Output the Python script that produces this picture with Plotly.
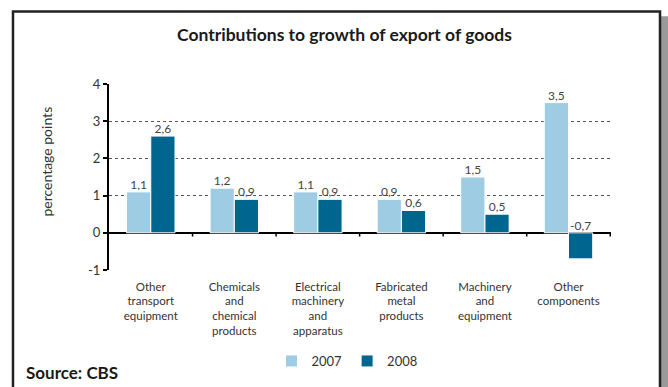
import plotly.graph_objects as go

# Data
categories = [
    "Other<br>transport<br>equipment",
    "Chemicals<br>and<br>chemical<br>products",
    "Electrical<br>machinery<br>and<br>apparatus",
    "Fabricated<br>metal<br>products",
    "Machinery<br>and<br>equipment",
    "Other<br>components",
]
values_2007 = [1.1, 1.2, 1.1, 0.9, 1.5, 3.5]
values_2008 = [2.6, 0.9, 0.9, 0.6, 0.5, -0.7]
series_names = ["2007", "2008"]
y_ticks = [-1, 0, 1, 2, 3, 4]

LIGHT = "#9ecce3"
DARK = "#006690"
FONT = "Lato"

W, H = 668, 387
L, R, T, B = 109, 57, 84, 116
PW, PH = W - L - R, H - T - B


def px_x(p):
    return (p - L) / PW


def px_y(q):
    return (H - B - q) / PH


def fmt(v):
    return f"{v:.1f}".replace(".", ",")


fig = go.Figure()
for name, vals, col, grp in [
    (series_names[0], values_2007, LIGHT, "a"),
    (series_names[1], values_2008, DARK, "b"),
]:
    fig.add_trace(go.Bar(
        x=categories, y=vals, name=name, marker_color=col,
        marker_line=dict(color="white", width=1),
        offsetgroup=grp,
    ))
for vals, grp in [(values_2007, "a"), (values_2008, "b")]:
    fig.add_trace(go.Scatter(
        x=categories, y=[max(v, 0) for v in vals], mode="text",
        text=[fmt(v) for v in vals], textposition="top center",
        textfont=dict(size=12, color="#444", family=FONT),
        offsetgroup=grp, showlegend=False, hoverinfo="skip",
    ))

shapes = []
# small tick marks on the zero line at category boundaries
for i in range(len(categories)):
    shapes.append(dict(type="line", xref="x", yref="y",
                       x0=i + 0.5, x1=i + 0.5, y0=0, y1=-0.1,
                       line=dict(color="black", width=1.5)))
# outer frame with a soft shadow on the right
shapes.append(dict(type="rect", xref="paper", yref="paper",
                   x0=px_x(661), x1=px_x(668), y0=px_y(400), y1=px_y(16),
                   fillcolor="#9a9a9a", line=dict(width=0), layer="below"))
shapes.append(dict(type="rect", xref="paper", yref="paper",
                   x0=px_x(13), x1=px_x(660), y0=px_y(400), y1=px_y(11),
                   fillcolor="white", line=dict(color="#222", width=2.5),
                   layer="below"))

annotations = [
    dict(text="<b>Contributions to growth of export of goods</b>",
         xref="paper", yref="paper", x=px_x(344), y=px_y(34),
         xanchor="center", yanchor="middle", showarrow=False,
         font=dict(size=17.5, color="#1a1a1a", family=FONT)),
    dict(text="<b>Source: CBS</b>",
         xref="paper", yref="paper", x=px_x(24), y=px_y(374),
         xanchor="left", yanchor="middle", showarrow=False,
         font=dict(size=17, color="#1a1a1a", family=FONT)),
    dict(text="percentage points",
         xref="paper", yref="paper", x=px_x(47), y=px_y(162), textangle=-90,
         xanchor="center", yanchor="middle", showarrow=False,
         font=dict(size=14, color="#333", family=FONT)),
]

fig.update_layout(
    width=W, height=H,
    margin=dict(l=L, r=R, t=T, b=B),
    paper_bgcolor="white", plot_bgcolor="rgba(0,0,0,0)",
    barmode="group", bargap=0.42, bargroupgap=0,
    scattermode="group", scattergap=0.42,
    font=dict(family=FONT, size=11, color="#333"),
    showlegend=True,
    legend=dict(orientation="h", x=px_x(347), y=px_y(361),
                xanchor="center", yanchor="middle",
                font=dict(size=13, color="#333", family=FONT),
                itemwidth=30, tracegroupgap=0, bgcolor="rgba(0,0,0,0)"),
    shapes=shapes,
    annotations=annotations,
)
fig.update_xaxes(showline=False, showgrid=False, ticks="",
                 tickfont=dict(size=11.5, color="#333", family=FONT),
                 ticklabelstandoff=8)
fig.update_yaxes(range=[-1, 4], tickvals=y_ticks, ticktext=[str(t) for t in y_ticks],
                 showline=True, linecolor="black", linewidth=2,
                 ticks="outside", ticklen=4, tickcolor="black", tickwidth=1.5,
                 showgrid=True, gridcolor="#555", gridwidth=1.3, griddash="dot",
                 zeroline=True, zerolinecolor="black", zerolinewidth=2,
                 tickfont=dict(size=13, color="#333", family=FONT))

fig.write_html("out.html")
